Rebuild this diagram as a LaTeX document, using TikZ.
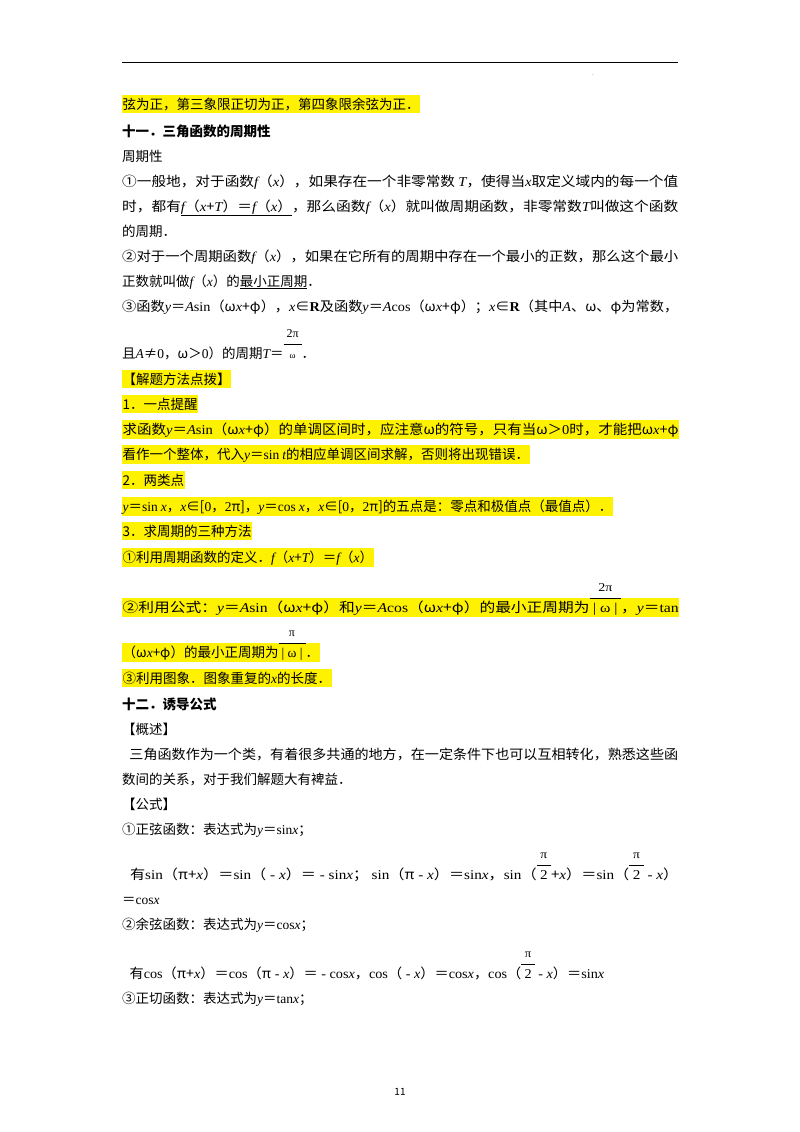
\documentclass[tikz,border=0pt]{standalone}
\usepackage{fontspec}
\usepackage{graphicx}
\setmainfont{Noto Sans CJK SC}
\newfontfamily\tms{Liberation Serif}
\newcommand{\I}[1]{{\tms\itshape #1}}
\newcommand{\Rm}[1]{{\tms #1}}
\newcommand{\full}[1]{\resizebox{556pt}{\height}{#1}}
\newcommand{\fr}[2]{\smash{\tms\renewcommand{\arraystretch}{1.25}\begin{tabular}[b]{@{\hspace{3pt}}c@{\hspace{3pt}}}\large #1\\\hline #2\end{tabular}}}
\begin{document}
\begin{tikzpicture}[x=1pt,y=-1pt,
  ln/.style={anchor=base west,inner sep=0pt,font=\fontsize{13.5}{16}\selectfont},
  hl/.style={ln,fill=yellow,inner ysep=2.5pt,inner xsep=0.5pt}]
\useasboundingbox (0,0) rectangle (800,1132);
\draw[line width=1pt] (122,63) -- (678,63);
\node[inner sep=0pt,font=\tiny] (dot) at (593,75) {.};
\node[hl] (l1) at (122,109) {弦为正，第三象限正切为正，第四象限余弦为正．};
\node[ln,font=\fontsize{13.5}{16}\selectfont\bfseries] (h11) at (122,136) {十一．三角函数的周期性};
\node[ln] (l3) at (122,161) {周期性};
\node[ln] (l4) at (122,186) {\full{①一般地，对于函数\I{f}（\I{x}），如果存在一个非零常数 \I{T}，使得当\I{x}取定义域内的每一个值}};
\node[ln] (l5) at (122,211) {\full{时，都有\underline{\I{f}（\I{x}+\I{T}）＝\I{f}（\I{x}）}，那么函数\I{f}（\I{x}）就叫做周期函数，非零常数\I{T}叫做这个函数}};
\node[ln] (l6) at (122,236) {的周期．};
\node[ln] (l7) at (122,261) {\full{②对于一个周期函数\I{f}（\I{x}），如果在它所有的周期中存在一个最小的正数，那么这个最小}};
\node[ln] (l8) at (122,286) {正数就叫做\I{f}（\I{x}）的\underline{最小正周期}．};
\node[ln] (l9) at (122,311) {\full{③函数\I{y}＝\I{A}\Rm{sin}（ω\I{x}+φ），\I{x}∈{\tms\bfseries R}及函数\I{y}＝\I{A}\Rm{cos}（ω\I{x}+φ）；\I{x}∈{\tms\bfseries R}（其中\I{A}、ω、φ为常数，}};
\node[ln] (l10) at (122,358) {且\I{A}≠\Rm{0}，ω＞\Rm{0}）的周期\I{T}＝\fr{2π}{\small ω}．};
\node[hl] (l11) at (122,384) {【解题方法点拨】};
\node[hl] (l12) at (122,409) {1．一点提醒};
\node[hl] (l13) at (122,434) {\full{求函数\I{y}＝\I{A}\Rm{sin}（ω\I{x}+φ）的单调区间时，应注意ω的符号，只有当ω＞\Rm{0}时，才能把ω\I{x}+φ}};
\node[hl] (l14) at (122,459) {看作一个整体，代入\I{y}＝\Rm{sin} \I{t}的相应单调区间求解，否则将出现错误．};
\node[hl] (l15) at (122,485) {2．两类点};
\node[hl] (l16) at (122,511) {\I{y}＝\Rm{sin} \I{x}，\I{x}∈[\Rm{0}，\Rm{2}π]，\I{y}＝\Rm{cos} \I{x}，\I{x}∈[\Rm{0}，\Rm{2}π]的五点是：零点和极值点（最值点）．};
\node[hl] (l17) at (122,536) {3．求周期的三种方法};
\node[hl] (l18) at (122,562) {①利用周期函数的定义．\I{f}（\I{x}+\I{T}）＝\I{f}（\I{x}）};
\node[hl] (l19) at (122,612) {\full{②利用公式：\I{y}＝\I{A}\Rm{sin}（ω\I{x}+φ）和\I{y}＝\I{A}\Rm{cos}（ω\I{x}+φ）的最小正周期为\fr{2π}{|\ ω\ |}，\I{y}＝\Rm{tan}}};
\node[hl] (l20) at (122,657) {（ω\I{x}+φ）的最小正周期为\fr{π}{|\ ω\ |}．};
\node[hl] (l21) at (122,683) {③利用图象．图象重复的\I{x}的长度．};
\node[ln,font=\fontsize{13.5}{16}\selectfont\bfseries] (h12) at (122,709) {十二．诱导公式};
\node[ln] (l22) at (122,734) {【概述】};
\node[ln] (l23) at (122,759) {\full{\hspace{7pt}三角函数作为一个类，有着很多共通的地方，在一定条件下也可以互相转化，熟悉这些函}};
\node[ln] (l24) at (122,784) {数间的关系，对于我们解题大有裨益．};
\node[ln] (l25) at (122,809) {【公式】};
\node[ln] (l26) at (122,834) {①正弦函数：表达式为\I{y}＝\Rm{sin}\I{x}；};
\node[ln] (l27) at (122,879) {\full{\hspace{7pt}有\Rm{sin}（π+\I{x}）＝\Rm{sin}（\Rm{ - }\I{x}）＝\Rm{ - sin}\I{x}；\ \Rm{sin}（π\Rm{ - }\I{x}）＝\Rm{sin}\I{x}，\Rm{sin}（\fr{π}{2}+\I{x}）＝\Rm{sin}（\fr{π}{2}\Rm{ - }\I{x}）}};
\node[ln] (l28) at (122,904) {＝\Rm{cos}\I{x}};
\node[ln] (l29) at (122,929) {②余弦函数：表达式为\I{y}＝\Rm{cos}\I{x}；};
\node[ln] (l30) at (122,978) {\resizebox{482pt}{\height}{\hspace{7pt}有\Rm{cos}（π+\I{x}）＝\Rm{cos}（π\Rm{ - }\I{x}）＝\Rm{ - cos}\I{x}，\Rm{cos}（\Rm{ - }\I{x}）＝\Rm{cos}\I{x}，\Rm{cos}（\fr{π}{2}\Rm{ - }\I{x}）＝\Rm{sin}\I{x}}};
\node[ln] (l31) at (122,1003) {③正切函数：表达式为\I{y}＝\Rm{tan}\I{x}；};
\node[inner sep=0pt,font=\fontsize{10}{12}\selectfont] (pg) at (400,1092) {11};
\end{tikzpicture}
\end{document}
